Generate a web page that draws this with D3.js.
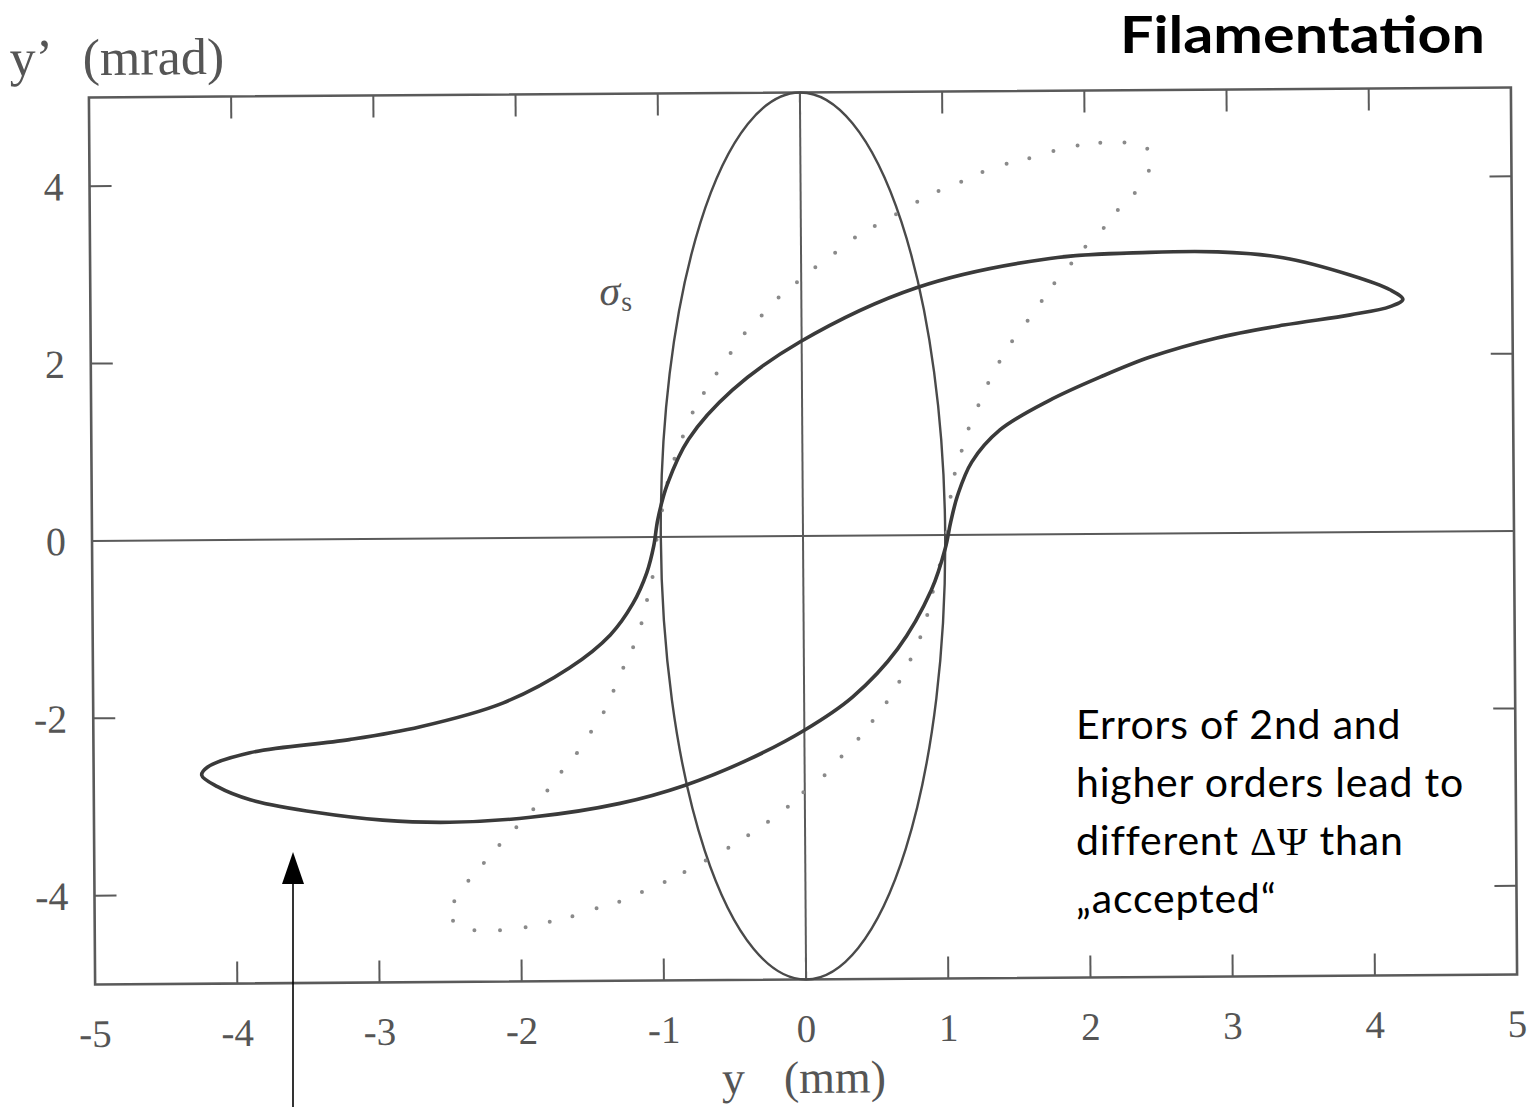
<!DOCTYPE html>
<html><head><meta charset="utf-8">
<script src="https://cdn.jsdelivr.net/npm/d3@7"></script>
<style>html,body{margin:0;padding:0;background:#fff;} svg{display:block;}</style>
</head><body>
<svg id="chart" width="1531" height="1107"></svg>
<script>
// ---- data ----
const xTicks = [-5,-4,-3,-2,-1,0,1,2,3,4,5];
const yTicks = [-4,-2,0,2,4];
const innerXTicks = [-4,-3,-2,-1,0,1,2,3,4];
const innerYTicks = [-4,-2,2,4];
const ellipseSemiAxes = [1, 5]; // acceptance ellipse (y, y')

// filamented (distorted) phase-space contour, thick line
const filY  = [4.23,4.14,3.86,3.39,2.93,2.45,1.75,0.81,-0.01,-0.49,-0.80,-0.95,-1.02,-1.05,-1.10,-1.20,-1.36,-1.65,-2.12,-2.70,-3.20,-3.90,-4.20,-4.24,-4.13,-3.90,-3.43,-2.97,-2.50,-1.93,-1.30,-0.84,-0.40,0.00,0.34,0.66,0.90,1.00,1.04,1.09,1.19,1.39,1.74,2.10,2.45,2.92,3.39,3.86,4.14];
const filYp = [2.62,2.73,2.90,3.10,3.17,3.17,3.11,2.79,2.19,1.65,1.10,0.60,0.20,-0.10,-0.40,-0.75,-1.10,-1.47,-1.86,-2.12,-2.26,-2.40,-2.56,-2.65,-2.78,-2.93,-3.08,-3.17,-3.20,-3.15,-3.00,-2.80,-2.52,-2.19,-1.82,-1.28,-0.62,-0.15,0.15,0.45,0.82,1.18,1.51,1.77,1.99,2.20,2.34,2.45,2.54];

// intermediate contour, dotted
const dotY  = [2.44,2.28,2.11,1.95,1.78,1.61,1.45,1.28,1.13,0.97,0.82,0.67,0.52,0.38,0.24,0.10,-0.03,-0.16,-0.28,-0.40,-0.50,-0.60,-0.69,-0.77,-0.84,-0.90,-0.95,-0.99,-1.03,-1.06,-1.10,-1.14,-1.20,-1.27,-1.34,-1.41,-1.50,-1.60,-1.71,-1.81,-1.91,-2.03,-2.15,-2.26,-2.37,-2.47,-2.48,-2.33,-2.15,-1.97,-1.80,-1.64,-1.47,-1.31,-1.15,-0.99,-0.85,-0.70,-0.54,-0.40,-0.26,-0.12,-0.01,0.14,0.26,0.38,0.48,0.58,0.67,0.75,0.82,0.87,0.91,0.96,1.01,1.04,1.07,1.12,1.17,1.24,1.31,1.39,1.48,1.59,1.69,1.78,1.90,2.00,2.13,2.23,2.35,2.45];
const dotYp = [4.34,4.41,4.41,4.38,4.32,4.24,4.18,4.09,3.98,3.88,3.76,3.62,3.49,3.36,3.19,3.03,2.86,2.69,2.49,2.29,2.07,1.84,1.62,1.40,1.13,0.88,0.61,0.30,-0.03,-0.45,-0.71,-0.97,-1.24,-1.47,-1.73,-1.97,-2.19,-2.43,-2.64,-2.85,-3.06,-3.26,-3.46,-3.66,-3.86,-4.09,-4.31,-4.42,-4.42,-4.39,-4.33,-4.27,-4.18,-4.11,-4.00,-3.89,-3.78,-3.65,-3.51,-3.37,-3.22,-3.05,-2.89,-2.70,-2.49,-2.29,-2.09,-1.88,-1.65,-1.40,-1.15,-0.90,-0.64,-0.34,0.03,0.43,0.69,0.95,1.20,1.46,1.71,1.95,2.18,2.41,2.63,2.83,3.05,3.24,3.45,3.65,3.84,4.09];

const titleText = "Filamentation";
const noteLines = ["Errors of 2nd and", "higher orders lead to", "different \u0394\u03A8 than", "\u201Eaccepted\u201C"];

// ---- drawing ----
const svg = d3.select("#chart");
const x = d3.scaleLinear().domain([-5,5]).range([92,1514]);
const y = d3.scaleLinear().domain([-5,5]).range([979.5,92.5]);
const cx = x(0), cy = y(0);
const AX = "#5a5a5a";
const serif = "'Liberation Serif','DejaVu Serif',serif";

const g = svg.append("g").attr("transform", `rotate(-0.4 ${cx} ${cy})`);

// frame
g.append("rect").attr("x", x(-5)).attr("y", y(5)).attr("width", x(5)-x(-5)).attr("height", y(-5)-y(5))
  .attr("fill","none").attr("stroke",AX).attr("stroke-width",2.6);

// inner ticks
const T = 22;
innerXTicks.forEach(v => {
  g.append("line").attr("x1",x(v)).attr("x2",x(v)).attr("y1",y(-5)).attr("y2",y(-5)-T).attr("stroke",AX).attr("stroke-width",2);
  g.append("line").attr("x1",x(v)).attr("x2",x(v)).attr("y1",y(5)).attr("y2",y(5)+T).attr("stroke",AX).attr("stroke-width",2);
});
innerYTicks.forEach(v => {
  g.append("line").attr("x1",x(-5)).attr("x2",x(-5)+T).attr("y1",y(v)).attr("y2",y(v)).attr("stroke",AX).attr("stroke-width",2);
  g.append("line").attr("x1",x(5)).attr("x2",x(5)-T).attr("y1",y(v)).attr("y2",y(v)).attr("stroke",AX).attr("stroke-width",2);
});

// zero lines
g.append("line").attr("x1",x(-5)).attr("x2",x(5)).attr("y1",y(0)).attr("y2",y(0)).attr("stroke",AX).attr("stroke-width",2);
g.append("line").attr("x1",x(0)).attr("x2",x(0)).attr("y1",y(5)).attr("y2",y(-5)).attr("stroke",AX).attr("stroke-width",2);

// tick labels
g.selectAll(".xl").data(xTicks).enter().append("text")
  .attr("x", d => x(d)).attr("y", 1042).attr("text-anchor","middle")
  .attr("font-family", serif).attr("font-size", 39).attr("fill","#555")
  .text(d => d < 0 ? "-" + Math.abs(d) : String(d));
g.selectAll(".yl").data(yTicks).enter().append("text")
  .attr("x", 66).attr("y", d => y(d) + 14).attr("text-anchor","end")
  .attr("font-family", serif).attr("font-size", 40).attr("fill","#555")
  .text(d => d < 0 ? "-" + Math.abs(d) : String(d));

// axis titles
const ax1 = g.append("g").attr("font-family", serif).attr("font-size", 52).attr("fill","#555");
ax1.append("text").attr("x", 13).attr("y", 70).text("y\u2019");
ax1.append("text").attr("x", 86).attr("y", 70).text("(mrad)");
const ax2 = g.append("g").attr("font-family", serif).attr("font-size", 46).attr("fill","#555");
ax2.append("text").attr("x", 718).attr("y", 1093).text("y");
ax2.append("text").attr("x", 780).attr("y", 1093).text("(mm)");

// ellipse
g.append("ellipse").attr("cx", x(0)).attr("cy", y(0))
  .attr("rx", x(ellipseSemiAxes[0]) - x(0)).attr("ry", y(0) - y(ellipseSemiAxes[1]))
  .attr("fill","none").attr("stroke","#4a4a4a").attr("stroke-width",2.4);

// dotted contour
const dots = dotY.map((v,i) => [v, dotYp[i]]);
g.selectAll(".dot").data(dots).enter().append("circle")
  .attr("cx", d => x(d[0])).attr("cy", d => y(d[1])).attr("r", 2).attr("fill","#8a8a8a");

// filamented contour
const fil = filY.map((v,i) => [v, filYp[i]]);
g.append("path").datum(fil)
  .attr("d", d3.line().x(d => x(d[0])).y(d => y(d[1])).curve(d3.curveCatmullRomClosed.alpha(0.5)))
  .attr("fill","none").attr("stroke","#3a3a3a").attr("stroke-width",3.6).attr("stroke-linejoin","round");

// sigma_s label
const sl = g.append("text").attr("x", x(-1.42)).attr("y", y(2.62)).attr("font-family", serif).attr("fill","#555");
sl.append("tspan").attr("font-style","italic").attr("font-size",42).text("\u03C3");
sl.append("tspan").attr("font-size",28).attr("dy",6).attr("dx",1).text("s");

// ---- overlay annotations ----
svg.append("text").attr("x", 1120).attr("y", 53)
  .attr("font-family","Lato, 'Open Sans', sans-serif").attr("font-weight","bold").attr("font-size",52).attr("fill","#000")
  .attr("textLength", 365).attr("lengthAdjust","spacingAndGlyphs")
  .text(titleText);

const note = svg.append("g").attr("font-family","Lato, 'Open Sans', sans-serif").attr("font-size",41).attr("letter-spacing",0.8).attr("fill","#000");
noteLines.forEach((t,i) => {
  const tx = note.append("text").attr("x",1076).attr("y",739 + 58*i);
  if (t.indexOf("\u0394\u03A8") >= 0) {
    const parts = t.split("\u0394\u03A8");
    tx.append("tspan").text(parts[0]);
    tx.append("tspan").attr("font-family", serif).text("\u0394\u03A8");
    tx.append("tspan").text(parts[1]);
  } else tx.text(t);
});

// arrow
svg.append("line").attr("x1",293).attr("x2",293).attr("y1",1107).attr("y2",880).attr("stroke","#000").attr("stroke-width",1.6);
svg.append("path").attr("d","M293,852 L282,884 L304,884 Z").attr("fill","#000");
</script>
</body></html>
